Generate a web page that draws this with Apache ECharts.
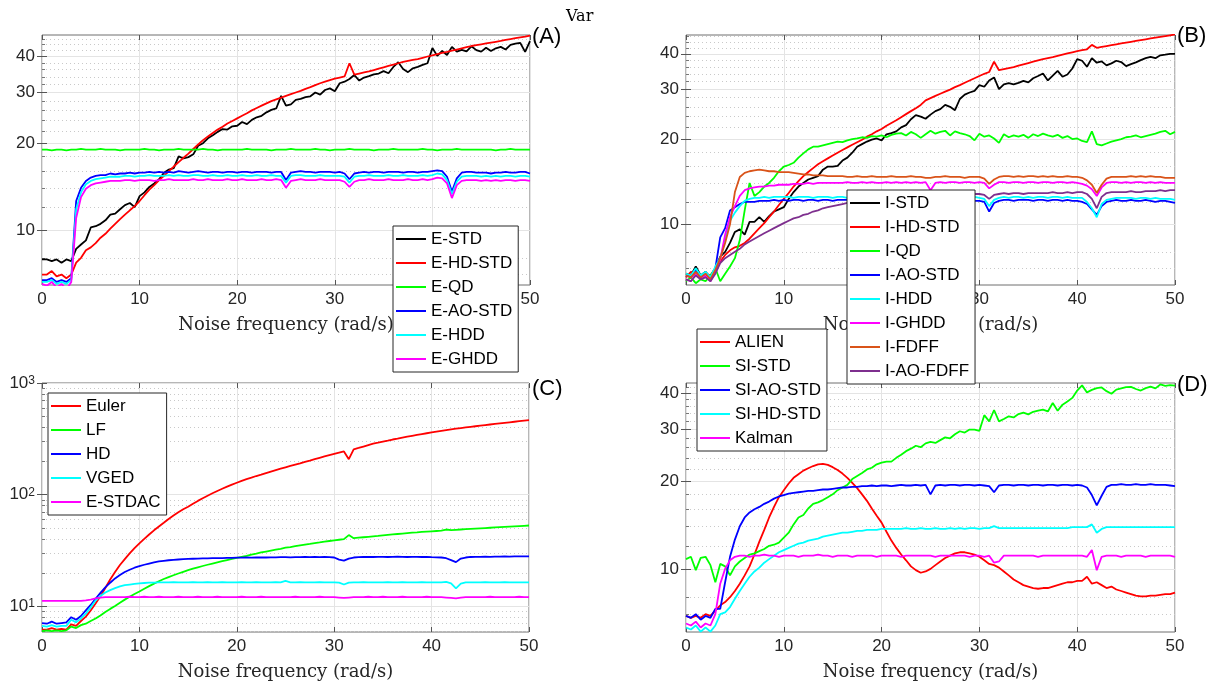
<!DOCTYPE html>
<html><head><meta charset="utf-8">
<script src="https://cdn.jsdelivr.net/npm/echarts@6/dist/echarts.min.js"></script>
<style>html,body{margin:0;padding:0;background:#fff}#c{width:1217px;height:685px}</style>
</head><body><div id="c"></div>
<script>
// ---------- shared x samples (rad/s) ----------
const freq = [0,0.5,1,1.5,2,2.5,3,3.5,4,4.5,5,5.5,6,6.5,7,7.5,8,8.5,9,9.5,
10,10.5,11,11.5,12,12.5,13,13.5,14,14.5,15,15.5,16,16.5,17,17.5,18,18.5,19,19.5,
20,20.5,21,21.5,22,22.5,23,23.5,24,24.5,25,25.5,26,26.5,27,27.5,28,28.5,29,29.5,
30,30.5,31,31.5,32,32.5,33,33.5,34,34.5,35,35.5,36,36.5,37,37.5,38,38.5,39,39.5,
40,40.5,41,41.5,42,42.5,43,43.5,44,44.5,45,45.5,46,46.5,47,47.5,48,48.5,49,49.5,50];

// ---------- tick values ----------
const xTicks = [0,10,20,30,40,50];
const linTicks = [10,20,30,40];
const linMinor = [7,8,12,14,16,18,22,24,26,28,32,34,36,38,42,44,46];
const decTicks = [10,100,1000];
const decMinor = [6,7,8,9,20,30,40,50,60,70,80,90,200,300,400,500,600,700,800,900];

// ---------- Panel A ----------
const A_names = ['E-STD','E-HD-STD','E-QD','E-AO-STD','E-HDD','E-GHDD'];
const A_std = [7.9,7.9,7.8,7.9,7.7,7.9,7.8,8.6,8.9,9.2,
10.2,10.3,10.5,10.8,11.3,11.4,11.8,12.2,12.4,12.0,
13.1,13.5,14.1,14.5,15.0,15.8,16.2,16.4,18.0,17.7,
17.9,18.3,19.6,20.0,20.8,21.3,21.9,22.4,22.3,22.9,
23.0,23.7,23.3,24.1,24.6,24.9,25.6,26.1,26.4,29.2,
27.0,27.3,28.3,28.5,28.9,29.1,30.0,29.5,30.6,31.0,
30.3,32.3,32.7,33.4,34.5,33.0,33.8,34.2,34.7,34.9,
35.6,35.0,36.8,38.2,36.2,35.3,36.4,36.8,37.4,37.9,
42.8,40.2,41.8,40.5,43.2,41.6,42.2,41.7,43.4,42.1,
41.6,42.9,41.8,42.7,43.2,42.3,43.9,44.3,44.6,41.5,45.2];
const A_hdstd = [7.0,7.0,7.2,6.9,7.0,6.8,7.0,7.7,8.0,8.5,
8.7,9.0,9.4,9.7,10.1,10.5,10.9,11.3,11.7,12.1,
12.6,13.2,13.8,14.3,14.9,15.4,16.0,16.6,17.2,17.8,
18.4,19.1,19.8,20.5,21.1,21.7,22.3,22.8,23.4,23.9,
24.4,24.9,25.4,26.0,26.5,27.0,27.5,28.0,28.4,28.8,
29.2,29.6,30.0,30.4,30.9,31.3,31.8,32.3,32.7,33.1,
33.5,33.8,34.1,37.9,34.6,34.9,35.2,35.5,35.9,36.3,
36.7,37.1,37.5,37.9,38.3,38.6,38.9,39.2,39.6,40.0,
40.4,40.8,41.2,41.5,41.9,42.3,42.7,43.1,43.5,43.8,
44.1,44.4,44.7,45.0,45.3,45.7,46.0,46.3,46.6,46.9,47.3];
const A_qd = [19.0,19.0,18.9,19.0,19.0,18.9,19.0,19.0,19.1,19.0,
19.0,19.0,19.1,19.0,19.0,19.0,18.9,19.0,19.0,19.0,
19.0,19.1,19.0,19.0,18.9,19.0,19.0,19.0,19.1,19.0,
19.0,19.0,19.0,19.1,19.0,19.0,18.9,19.0,19.0,19.0,
19.0,19.0,19.1,19.0,19.0,19.0,19.0,18.9,19.0,19.0,
19.0,19.1,19.0,19.0,19.0,19.0,19.1,19.0,19.0,18.9,
19.0,19.0,19.0,19.1,19.0,19.0,19.0,19.0,18.9,19.0,
19.0,19.0,19.1,19.0,19.0,19.0,19.0,19.0,19.1,19.0,
19.0,18.9,19.0,19.0,19.0,19.1,19.0,19.0,19.0,19.0,
19.0,19.0,19.0,18.9,19.0,19.0,19.1,19.0,19.0,19.0,19.0];
const A_aostd = [6.7,6.7,6.8,6.6,6.7,6.6,6.8,12.6,14.0,14.8,
15.2,15.4,15.5,15.5,15.7,15.6,15.7,15.7,15.8,15.7,
15.8,15.8,15.9,15.8,15.9,15.8,15.9,15.8,16.0,15.9,
15.8,15.9,16.0,15.9,15.8,15.9,15.9,15.8,15.9,15.9,
15.8,15.9,15.9,15.8,15.9,15.9,15.9,15.8,15.9,15.9,
14.9,15.8,15.9,16.0,15.9,15.9,15.8,15.9,15.9,15.9,
15.8,15.9,15.7,15.0,15.7,15.8,15.9,15.8,15.9,15.9,
15.8,15.9,15.9,15.9,15.8,15.9,15.9,15.8,15.9,15.9,
16.0,16.1,16.0,15.3,13.6,15.1,15.8,15.9,15.9,15.8,
15.8,15.8,15.7,15.8,15.8,15.9,15.8,15.8,15.9,15.9,15.7];
const A_hdd = [6.6,6.6,6.7,6.5,6.6,6.5,6.7,11.8,13.5,14.4,
14.8,15.0,15.1,15.2,15.3,15.3,15.3,15.4,15.4,15.3,
15.4,15.4,15.5,15.4,15.4,15.4,15.5,15.4,15.5,15.4,
15.4,15.5,15.5,15.4,15.4,15.5,15.4,15.4,15.5,15.4,
15.4,15.5,15.4,15.4,15.5,15.4,15.4,15.5,15.4,15.4,
14.6,15.4,15.5,15.5,15.4,15.4,15.4,15.5,15.4,15.4,
15.4,15.4,15.3,14.6,15.3,15.4,15.4,15.5,15.4,15.4,
15.4,15.5,15.4,15.4,15.5,15.4,15.4,15.4,15.5,15.4,
15.5,15.7,15.6,14.9,13.3,14.7,15.3,15.4,15.4,15.4,
15.3,15.4,15.3,15.4,15.3,15.4,15.4,15.3,15.4,15.4,15.3];
const A_ghdd = [6.5,6.4,6.6,6.3,6.5,6.2,6.6,11.0,13.0,13.9,
14.3,14.5,14.6,14.7,14.8,14.8,14.8,14.9,14.9,14.8,
14.9,14.9,14.9,14.8,14.9,14.9,15.0,14.9,14.9,14.9,
14.9,15.0,14.9,14.9,15.0,14.9,14.9,14.9,15.0,14.9,
14.9,15.0,14.9,14.9,14.9,15.0,14.9,14.9,15.0,14.9,
14.0,14.8,14.9,15.0,14.9,14.9,14.9,15.0,14.9,14.9,
14.9,14.9,14.7,14.1,14.7,14.9,14.9,15.0,14.9,14.9,
14.9,15.0,14.9,14.9,14.9,15.0,14.9,14.9,15.0,14.9,
15.0,15.2,15.1,14.5,12.9,14.3,14.8,14.9,14.9,14.9,
14.8,14.9,14.8,14.9,14.8,14.9,14.9,14.8,14.9,14.9,14.8];

// ---------- Panel B ----------
const B_names = ['I-STD','I-HD-STD','I-QD','I-AO-STD','I-HDD','I-GHDD','I-FDFF','I-AO-FDFF'];
const B_std = [6.7,6.6,7.1,6.6,6.8,6.5,7.0,7.7,8.0,8.6,
9.4,9.6,9.2,10.2,10.2,10.6,10.2,10.7,11.1,11.3,
11.5,12.3,13.0,13.6,14.0,14.4,14.6,14.8,15.6,16.0,
16.0,16.1,16.8,17.2,17.9,18.8,19.2,19.6,19.9,20.1,
19.8,20.8,21.0,21.3,22.0,22.4,23.5,24.3,24.0,23.6,
24.4,25.1,25.5,26.4,26.0,25.3,27.7,28.7,29.2,29.6,
31.0,30.6,32.2,33.0,30.0,31.2,31.5,31.2,31.6,32.1,
31.7,32.8,33.4,34.1,32.2,33.5,34.8,33.2,33.8,35.5,
38.3,37.8,36.0,38.6,37.2,37.6,36.4,37.0,37.8,37.4,
36.2,36.8,37.3,38.0,38.6,39.0,38.6,39.5,39.7,40.0,40.0];
const B_hdstd = [6.5,6.8,6.6,6.5,6.7,6.6,7.0,7.4,7.8,8.1,
8.3,8.4,8.6,8.9,9.3,9.7,10.1,10.6,11.1,11.7,
12.3,12.9,13.6,14.2,14.8,15.3,15.8,16.3,16.7,17.1,
17.5,17.9,18.3,18.7,19.1,19.5,19.9,20.4,20.8,21.3,
21.7,22.3,22.8,23.3,23.9,24.5,25.1,25.7,26.4,27.4,
27.9,28.4,28.9,29.4,29.9,30.5,31.0,31.6,32.2,32.8,
33.4,34.0,34.5,37.5,35.0,35.3,35.6,35.9,36.3,36.7,
37.1,37.5,37.9,38.3,38.6,38.9,39.3,39.7,40.1,40.5,
40.9,41.2,41.5,43.0,42.0,42.3,42.6,42.9,43.2,43.5,
43.8,44.1,44.4,44.7,45.0,45.3,45.6,45.9,46.2,46.5,46.8];
const B_qd = [6.3,6.5,6.2,6.4,6.3,6.6,7.0,6.3,6.7,7.1,
7.6,8.8,11.2,14.0,12.6,13.0,13.6,14.0,14.6,15.4,
16.0,16.2,16.5,17.2,17.8,18.4,18.8,18.8,19.0,19.2,
19.4,19.6,19.5,19.8,20.0,20.1,20.3,20.2,20.5,20.4,
20.6,20.3,20.7,20.9,21.0,20.6,21.2,20.8,20.2,20.8,
21.4,20.9,21.2,21.4,20.6,21.3,21.0,20.8,20.5,19.8,
20.9,20.4,20.6,20.1,19.4,20.8,20.3,20.6,20.4,20.7,
20.2,20.8,20.5,20.9,20.6,20.4,20.7,20.2,20.5,20.0,
20.1,19.7,19.5,21.3,19.2,19.0,19.3,19.6,19.8,20.0,
20.3,20.4,20.6,20.3,20.5,20.7,20.9,21.2,21.4,20.8,21.2];
const B_aostd = [6.6,6.5,6.9,6.5,6.7,6.4,7.0,9.0,9.7,11.2,
11.5,11.8,12.0,12.0,12.0,12.1,12.1,12.1,12.2,12.1,
12.2,12.1,12.2,12.2,12.1,12.2,12.2,12.1,12.2,12.2,
12.1,12.2,12.2,12.2,12.1,12.2,12.2,12.2,12.1,12.2,
12.2,12.1,12.2,12.2,12.2,12.1,12.2,12.2,12.1,12.2,
12.1,12.2,12.2,12.1,12.2,12.2,12.1,12.2,12.2,12.1,
12.1,12.0,11.1,11.9,12.1,12.2,12.2,12.1,12.2,12.2,
12.2,12.1,12.2,12.2,12.1,12.2,12.2,12.1,12.2,12.1,
12.1,12.0,11.8,11.3,10.8,11.6,12.0,12.1,12.2,12.1,
12.1,12.2,12.1,12.1,12.2,12.1,12.0,12.1,12.1,12.0,11.9];
const B_hdd = [6.7,6.6,7.0,6.6,6.8,6.5,7.1,7.6,8.8,10.3,
11.0,11.6,12.1,12.3,12.4,12.4,12.5,12.4,12.5,12.5,
12.5,12.5,12.4,12.5,12.5,12.5,12.4,12.5,12.5,12.5,
12.4,12.5,12.5,12.4,12.5,12.5,12.4,12.5,12.5,12.4,
12.5,12.4,12.5,12.5,12.4,12.5,12.5,12.4,12.5,12.5,
12.3,12.5,12.4,12.5,12.5,12.4,12.5,12.5,12.4,12.5,
12.4,12.3,11.6,12.2,12.4,12.5,12.4,12.5,12.5,12.4,
12.5,12.4,12.5,12.5,12.4,12.5,12.5,12.4,12.5,12.4,
12.4,12.4,12.0,11.4,10.6,11.8,12.2,12.3,12.4,12.4,
12.4,12.4,12.3,12.4,12.4,12.3,12.4,12.3,12.3,12.3,12.2];
const B_ghdd = [6.4,6.3,6.7,6.4,6.6,6.3,6.8,7.5,9.2,10.6,
11.6,12.6,13.2,13.4,13.5,13.6,13.6,13.7,13.7,13.8,
13.8,13.8,13.9,13.9,13.9,14.0,13.9,14.0,14.0,14.0,
14.0,14.0,14.0,14.1,14.0,14.0,14.1,14.0,14.1,14.0,
14.0,14.1,14.0,14.1,14.0,14.1,14.0,14.1,14.0,14.1,
13.2,14.0,14.1,14.0,14.1,14.1,14.0,14.1,14.1,14.0,
14.1,14.0,13.4,13.8,14.1,14.1,14.0,14.1,14.1,14.0,
14.1,14.1,14.0,14.1,14.1,14.0,14.1,14.1,14.0,14.1,
14.0,13.9,13.7,13.3,12.6,13.5,14.0,14.1,14.1,14.0,
14.1,14.0,14.1,14.1,14.0,14.1,14.0,14.1,14.0,14.0,14.0];
const B_fdff = [6.6,6.5,6.8,6.5,6.7,6.4,6.9,7.6,8.6,10.0,
13.0,14.7,15.2,15.4,15.5,15.6,15.5,15.4,15.4,15.3,
15.3,15.3,15.2,15.1,15.0,15.0,14.9,14.9,14.9,14.8,
14.8,14.8,14.8,14.7,14.7,14.8,14.7,14.7,14.8,14.7,
14.7,14.7,14.8,14.7,14.7,14.7,14.8,14.7,14.7,14.6,
14.6,14.7,14.7,14.8,14.7,14.7,14.7,14.6,14.7,14.7,
14.7,14.5,13.9,14.4,14.7,14.8,14.8,14.7,14.8,14.7,
14.8,14.8,14.7,14.8,14.7,14.8,14.7,14.7,14.8,14.7,
14.7,14.6,14.3,13.8,12.9,13.8,14.5,14.7,14.7,14.7,
14.7,14.8,14.7,14.8,14.7,14.8,14.7,14.7,14.6,14.6,14.6];
const B_aofdff = [6.4,6.3,6.6,6.4,6.5,6.3,6.7,7.3,7.6,7.8,
8.0,8.2,8.5,8.7,8.9,9.1,9.3,9.5,9.7,9.9,
10.1,10.3,10.5,10.6,10.8,10.9,11.1,11.2,11.4,11.5,
11.6,11.7,11.8,11.9,12.0,12.1,12.2,12.2,12.3,12.4,
12.4,12.5,12.5,12.5,12.6,12.6,12.6,12.6,12.7,12.7,
12.7,12.7,12.7,12.7,12.8,12.7,12.8,12.8,12.7,12.8,
12.8,12.7,12.3,12.7,12.8,12.9,12.8,12.9,12.9,12.8,
12.9,12.9,12.9,12.9,12.9,13.0,12.9,12.9,13.0,12.9,
13.0,13.0,12.8,12.3,11.4,12.5,12.9,13.0,13.0,13.0,
13.0,13.1,13.0,13.0,13.1,13.1,13.1,13.2,13.1,13.2,13.2];

// ---------- Panel C ----------
const C_names = ['Euler','LF','HD','VGED','E-STDAC'];
const C_euler = [6.2,6.2,6.4,6.2,6.3,6.2,6.9,6.7,7.4,8.1,
9.2,10.6,12.3,14.6,17.4,20.3,23.5,26.5,29.8,33.2,
36.7,40.2,44.0,48.0,52.0,56.0,60.5,65.0,69.5,74,
78,83,88,93,98,103,108,113,118,123,
128,133,138,142,147,151,156,161,166,171,
176,181,186,191,197,202,208,214,220,226,
232,238,244,208,255,262,270,278,286,292,
299,305,312,318,325,331,337,343,349,355,
361,367,373,379,385,390,395,400,405,410,
415,420,425,430,435,440,445,450,455,460,465];
const C_lf = [6.0,6.1,6.0,6.1,6.0,6.1,6.6,6.4,6.8,7.0,
7.4,7.8,8.3,8.9,9.5,10.1,10.8,11.5,12.2,12.9,
13.6,14.4,15.2,16.0,16.8,17.6,18.3,19.0,19.7,20.4,
21.1,21.8,22.4,23.0,23.6,24.2,24.8,25.4,26.0,26.6,
27.2,27.8,28.4,29.1,29.7,30.4,31.0,31.6,32.2,32.8,
33.6,34.0,34.6,35.2,35.8,36.3,36.9,37.4,38.0,38.5,
39.0,39.5,40.0,43.5,40.8,41.2,41.6,42.0,42.4,42.8,
43.3,43.7,44.1,44.5,44.9,45.3,45.7,46.0,46.4,46.7,
47.0,47.3,47.6,48.8,48.2,48.5,48.8,49.1,49.4,49.7,
50.0,50.3,50.6,50.9,51.2,51.5,51.8,52.1,52.4,52.7,53.0];
const C_hd = [7.1,7.0,7.3,7.0,7.1,7.2,8.0,7.6,8.2,9.2,
10.3,11.7,13.2,14.8,16.3,17.8,19.1,20.3,21.3,22.2,
22.9,23.6,24.2,24.8,25.3,25.6,25.9,26.1,26.3,26.5,
26.6,26.7,26.8,26.9,26.9,27.0,27.1,27.1,27.2,27.2,
27.3,27.3,27.4,27.3,27.4,27.5,27.4,27.5,27.5,27.6,
27.6,27.5,27.6,27.6,27.7,27.6,27.7,27.6,27.7,27.6,
27.4,26.2,25.7,26.8,27.4,27.6,27.7,27.8,27.7,27.8,
27.8,27.7,27.8,27.9,27.8,27.7,27.8,27.8,27.7,27.8,
27.6,27.5,27.4,27.0,26.0,24.9,26.8,27.4,27.7,27.8,
27.8,27.9,27.8,27.9,27.9,28.0,27.9,28.0,28.0,28.0,28.0];
const C_vged = [6.7,6.6,6.8,6.6,6.7,6.7,7.6,7.2,7.8,8.6,
9.8,11.3,12.4,13.3,14.0,14.6,15.1,15.5,15.7,15.9,
16.1,16.2,16.3,16.3,16.4,16.4,16.4,16.5,16.4,16.4,
16.4,16.5,16.4,16.4,16.5,16.4,16.4,16.5,16.4,16.4,
16.4,16.5,16.4,16.4,16.5,16.4,16.4,16.4,16.5,16.4,
16.9,16.4,16.4,16.5,16.4,16.4,16.4,16.5,16.4,16.4,
16.4,16.3,15.7,16.3,16.4,16.4,16.5,16.4,16.4,16.4,
16.4,16.5,16.4,16.4,16.5,16.4,16.4,16.4,16.5,16.4,
16.4,16.4,16.4,16.6,16.1,14.5,16.0,16.4,16.4,16.4,
16.4,16.5,16.4,16.4,16.4,16.5,16.4,16.4,16.4,16.4,16.4];
const C_stdac = [11.2,11.2,11.2,11.2,11.2,11.2,11.2,11.2,11.2,11.3,
11.5,11.8,12.0,12.1,12.1,12.1,12.1,12.1,12.2,12.1,
12.1,12.2,12.1,12.1,12.2,12.1,12.1,12.1,12.2,12.1,
12.1,12.1,12.2,12.1,12.1,12.1,12.2,12.1,12.1,12.1,
12.1,12.2,12.1,12.1,12.1,12.2,12.1,12.1,12.1,12.1,
12.1,12.1,12.2,12.1,12.1,12.1,12.1,12.2,12.1,12.1,
12.1,12.0,11.9,12.0,12.1,12.1,12.1,12.2,12.1,12.1,
12.2,12.1,12.1,12.1,12.2,12.1,12.1,12.1,12.1,12.2,
12.1,12.1,12.1,12.0,11.9,11.8,12.0,12.1,12.1,12.1,
12.1,12.1,12.2,12.1,12.1,12.1,12.1,12.1,12.2,12.1,12.1];

// ---------- Panel D ----------
const D_names = ['ALIEN','SI-STD','SI-AO-STD','SI-HD-STD','Kalman'];
const D_alien = [6.9,6.8,6.9,6.8,7.0,6.9,7.2,7.5,7.7,8.0,
8.4,8.9,9.5,10.2,11.2,12.4,13.6,15.0,16.3,17.6,
18.6,19.6,20.5,21.1,21.7,22.1,22.5,22.8,22.9,22.7,
22.3,21.8,21.2,20.5,19.7,18.9,18.0,17.1,16.1,15.2,
14.4,13.4,12.5,11.8,11.2,10.7,10.2,9.9,9.7,9.8,
10.0,10.3,10.6,10.9,11.1,11.3,11.4,11.4,11.3,11.2,
11.0,10.7,10.4,10.3,10.1,9.8,9.5,9.2,9.0,8.8,
8.7,8.6,8.55,8.6,8.6,8.7,8.8,8.9,9.0,9.0,
9.1,9.1,9.4,8.9,9.0,8.8,8.6,8.7,8.5,8.4,
8.3,8.2,8.1,8.05,8.05,8.1,8.1,8.15,8.2,8.2,8.3];
const D_sistd = [10.8,11.0,9.9,10.9,11.0,10.3,9.0,10.4,10.2,9.5,
10.2,10.6,10.9,11.2,11.3,11.5,11.7,12.0,12.1,12.3,
12.8,13.3,14.2,15.0,15.3,16.1,16.7,16.9,17.2,17.6,
18.0,18.6,19.0,19.4,20.3,20.8,21.3,21.9,22.2,22.8,
23.1,23.3,23.3,24.0,24.6,25.3,25.8,26.4,26.1,26.9,
27.2,27.0,27.6,28.2,28.0,28.9,29.6,29.3,30.0,30.0,
29.7,33.6,32.0,35.0,32.0,32.6,33.3,33.0,33.9,34.3,
33.8,34.5,34.8,35.1,34.6,37.0,34.8,36.5,37.4,38.5,
40.8,42.5,40.2,41.0,41.6,41.8,40.6,39.8,41.1,41.5,
41.9,42.0,41.3,40.8,41.6,42.1,41.5,42.8,42.3,42.6,42.4];
const D_aostd = [6.9,6.8,7.0,6.7,6.9,6.8,7.3,7.3,9.0,11.0,
12.6,14.0,15.0,15.6,16.0,16.3,16.7,17.0,17.4,17.7,
17.9,18.1,18.2,18.3,18.4,18.5,18.5,18.6,18.7,18.7,
18.8,18.9,19.0,19.0,19.1,19.1,19.2,19.2,19.3,19.2,
19.3,19.3,19.2,19.3,19.4,19.3,19.3,19.4,19.3,19.4,
18.0,19.3,19.4,19.3,19.4,19.4,19.3,19.4,19.4,19.3,
19.4,19.3,19.2,18.3,19.3,19.4,19.4,19.3,19.4,19.4,
19.3,19.4,19.4,19.3,19.4,19.4,19.3,19.4,19.4,19.3,
19.4,19.3,19.0,17.9,16.5,17.8,19.1,19.4,19.4,19.5,
19.4,19.4,19.5,19.4,19.4,19.5,19.4,19.4,19.4,19.3,19.2];
const D_hdstd = [6.3,6.2,6.4,6.1,6.3,6.1,6.4,7.0,7.1,7.4,
7.9,8.4,8.9,9.4,9.8,10.1,10.5,10.8,11.1,11.4,
11.6,11.8,12.0,12.2,12.3,12.5,12.6,12.7,12.9,13.0,
13.1,13.2,13.3,13.3,13.4,13.5,13.5,13.6,13.6,13.6,
13.7,13.7,13.7,13.7,13.7,13.8,13.7,13.7,13.8,13.7,
13.7,13.8,13.7,13.7,13.8,13.7,13.8,13.7,13.8,13.8,
13.7,13.8,13.8,14.0,13.8,13.8,13.8,13.8,13.8,13.8,
13.8,13.8,13.8,13.8,13.8,13.8,13.8,13.8,13.8,13.9,
13.9,13.9,13.9,14.2,13.3,13.7,13.9,13.9,13.9,13.9,
13.9,13.9,13.9,13.9,13.9,13.9,13.9,13.9,13.9,13.9,13.9];
const D_kalman = [6.5,6.4,6.6,6.3,6.5,6.4,7.0,8.9,10.0,10.7,
11.0,11.1,11.1,11.0,11.1,11.1,11.2,11.1,11.1,11.0,
11.1,11.1,11.1,11.0,11.1,11.1,11.1,11.2,11.1,11.1,
11.0,11.1,11.1,11.1,11.0,11.1,11.1,11.1,11.1,11.0,
11.1,11.1,11.1,11.1,11.0,11.1,11.1,11.1,11.1,11.1,
11.1,11.0,11.1,11.1,11.1,11.1,11.1,11.1,11.0,11.1,
11.1,11.0,11.1,10.5,10.6,11.1,11.1,11.1,11.1,11.1,
11.1,11.1,11.0,11.1,11.1,11.1,11.1,11.1,11.1,11.1,
11.1,11.1,11.0,11.6,9.9,11.0,11.1,11.1,11.1,11.0,
11.1,11.1,11.1,11.1,11.0,11.1,11.1,11.1,11.1,11.1,11.0];

// ---------- styling ----------
const SANS = '"Liberation Sans", Arial, sans-serif';
const SERIF = '"DejaVu Serif", serif';
const TXT = '#262626';
const grids = [
  {left: 42, top: 35, width: 488, height: 250},
  {left: 686, top: 35, width: 489, height: 250},
  {left: 42, top: 383, width: 487, height: 249},
  {left: 686, top: 383, width: 489, height: 249}
];
const yRanges = [[6.44, 47.5], [6.11, 46.6], [5.9, 1000], [6.08, 43.3]];

const xAxes = [], yAxes = [];
grids.forEach((g, gi) => {
  xAxes.push({
    type: 'value', gridIndex: gi, min: 0, max: 50, interval: 10, position: 'bottom',
    axisLine: {show: false},
    axisTick: {show: true, inside: true, length: 5, lineStyle: {color: '#555'}},
    axisLabel: {fontSize: 17, fontFamily: SANS, color: TXT, margin: 6},
    splitLine: {show: true, lineStyle: {color: '#e4e4e4', width: 1}},
    name: 'Noise frequency (rad/s)', nameLocation: 'middle', nameGap: 31,
    nameTextStyle: {fontFamily: SERIF, fontSize: 18, color: TXT}
  });
  xAxes.push({
    type: 'value', gridIndex: gi, min: 0, max: 50, interval: 10, position: 'top',
    axisLine: {show: false}, axisLabel: {show: false}, splitLine: {show: false},
    axisTick: {show: true, inside: true, length: 5, lineStyle: {color: '#555'}}
  });
  const isDec = gi === 2;
  const major = isDec ? decTicks : linTicks;
  const minor = isDec ? decMinor : linMinor;
  const [mn, mx] = yRanges[gi];
  yAxes.push({
    type: 'log', logBase: 10, gridIndex: gi, min: mn, max: mx, position: 'left',
    axisLine: {show: false},
    axisTick: {show: true, inside: true, length: 5, customValues: major, lineStyle: {color: '#555'}},
    axisLabel: {
      customValues: major, fontSize: 17, fontFamily: SANS, color: TXT, margin: 7,
      formatter: isDec
        ? (v) => '10{s|' + Math.round(Math.log10(v)) + '}'
        : (v) => String(Math.round(v)),
      rich: {s: {fontSize: 12, fontFamily: SANS, color: TXT, verticalAlign: 'top', lineHeight: 12, padding: [0, 0, 10, 0]}}
    },
    splitLine: {show: true, lineStyle: {color: '#e4e4e4', width: 1}}
  });
  yAxes.push({
    type: 'log', logBase: 10, gridIndex: gi, min: mn, max: mx, position: 'right',
    axisLine: {show: false}, axisLabel: {show: false}, splitLine: {show: false},
    axisTick: {show: true, inside: true, length: 5, customValues: major, lineStyle: {color: '#555'}}
  });
  yAxes.push({
    type: 'log', logBase: 10, gridIndex: gi, min: mn, max: mx, position: 'left',
    axisLine: {show: false}, axisLabel: {show: false},
    axisTick: {show: true, inside: true, length: 3, customValues: minor, lineStyle: {color: '#777'}},
    splitLine: {show: true, lineStyle: {color: '#c9c9c9', width: 1, type: [1, 3]}}
  });
});

const series = [];
function add(gi, name, vals, color) {
  series.push({
    name, type: 'line', xAxisIndex: gi * 2, yAxisIndex: gi * 3,
    data: freq.map((x, i) => [x, vals[i]]),
    symbol: 'none', showSymbol: false, animation: false,
    lineStyle: {color, width: 1.8}, itemStyle: {color},
    emphasis: {disabled: true}, silent: true, clip: true
  });
}
const RED = '#ff0000', GRN = '#00ff00', BLU = '#0000ff', CYA = '#00ffff', MAG = '#ff00ff', BLK = '#000000';
const ORG = '#d95319', PUR = '#7e2f8e';
[A_std, A_hdstd, A_qd, A_aostd, A_hdd, A_ghdd].forEach((v, i) => add(0, A_names[i], v, [BLK, RED, GRN, BLU, CYA, MAG][i]));
[B_std, B_hdstd, B_qd, B_aostd, B_hdd, B_ghdd, B_fdff, B_aofdff].forEach((v, i) => add(1, B_names[i], v, [BLK, RED, GRN, BLU, CYA, MAG, ORG, PUR][i]));
[C_euler, C_lf, C_hd, C_vged, C_stdac].forEach((v, i) => add(2, C_names[i], v, [RED, GRN, BLU, CYA, MAG][i]));
[D_alien, D_sistd, D_aostd, D_hdstd, D_kalman].forEach((v, i) => add(3, D_names[i], v, [RED, GRN, BLU, CYA, MAG][i]));

const LINE_ICON = 'path://M0,0 L30,0 L30,2 L0,2 Z';
function legend(names, left, top) {
  return {
    data: names, left, top, orient: 'vertical', selectedMode: false,
    icon: LINE_ICON, symbolKeepAspect: true,
    itemWidth: 30, itemHeight: 18, itemGap: 6,
    padding: [4, 6, 4, 3],
    backgroundColor: '#ffffff', borderColor: '#262626', borderWidth: 1,
    textStyle: {fontFamily: SANS, fontSize: 17, color: '#000', lineHeight: 18},
    z: 10
  };
}

const txt = (t, left, top, font) => ({type: 'text', left, top, z: 20,
  style: {text: t, font, fill: '#000'}});

const chart = echarts.init(document.getElementById('c'), null, {renderer: 'canvas'});
chart.setOption({
  animation: false,
  backgroundColor: '#ffffff',
  grid: grids.map(g => Object.assign({show: true, borderColor: '#6e6e6e', borderWidth: 1, backgroundColor: 'transparent', containLabel: false}, g)),
  xAxis: xAxes,
  yAxis: yAxes,
  legend: [
    legend(A_names, 393, 226),
    legend(B_names, 847, 190),
    legend(C_names, 48, 393),
    legend(D_names, 697, 329)
  ],
  graphic: [
    txt('(A)', 532, 26, '22px ' + SANS),
    txt('(B)', 1177, 25, '22px ' + SANS),
    txt('(C)', 532, 378, '22px ' + SANS),
    txt('(D)', 1177, 374, '22px ' + SANS),
    txt('Var', 566, 9, '16px ' + SERIF)
  ],
  series
});
</script></body></html>
